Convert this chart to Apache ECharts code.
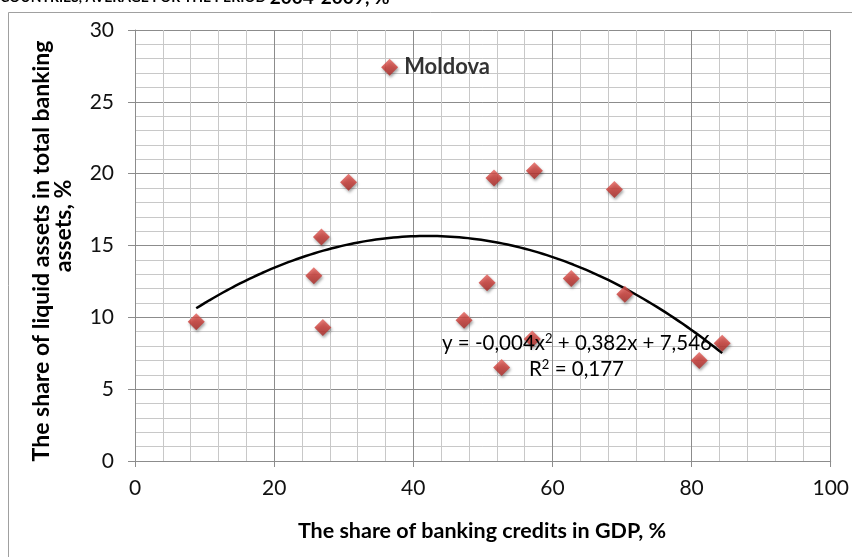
<!DOCTYPE html>
<html>
<head>
<meta charset="utf-8">
<script src="https://cdn.jsdelivr.net/npm/echarts@6/dist/echarts.min.js"></script>
<style>
html,body{margin:0;padding:0;background:#fff;}
#c{width:852px;height:557px;}
</style>
</head>
<body>
<div id="c"></div>
<script>
// ---- data ----
const creditsGDP = [8.8, 25.7, 26.8, 27.0, 30.7, 36.6, 47.3, 50.6, 51.6, 52.7, 57.4, 57.1, 62.7, 68.9, 70.4, 81.1, 84.4];
const liquidShare = [9.7, 12.9, 15.6, 9.3, 19.4, 27.4, 9.8, 12.4, 19.7, 6.5, 20.2, 8.5, 12.7, 18.9, 11.6, 7.0, 8.2];
const pointNames = ['', '', '', '', '', 'Moldova', '', '', '', '', '', '', '', '', '', '', ''];
const xTicks = [0, 20, 40, 60, 80, 100];
const yTicks = [0, 5, 10, 15, 20, 25, 30];
const titleText = ['COUNTRIES, AVERAGE FOR THE PERIOD ', '2004-2009, %'];
const xName = 'The share of banking credits in GDP, %';
const yNameLines = ['The share of liquid assets in total banking', 'assets, %'];
const equationText = ['y = -0,004x', '2', ' + 0,382x + 7,546'];
const r2Text = ['R', '2', ' = 0,177'];

// ---- quadratic least-squares trend (as Excel's polynomial trendline) ----
function quadFit(xs, ys) {
  let S = [0,0,0,0,0], T = [0,0,0];
  for (let i = 0; i < xs.length; i++) {
    let p = 1;
    for (let k = 0; k < 5; k++) { S[k] += p; if (k < 3) T[k] += p * ys[i]; p *= xs[i]; }
  }
  const A = [[S[0],S[1],S[2],T[0]],[S[1],S[2],S[3],T[1]],[S[2],S[3],S[4],T[2]]];
  for (let c = 0; c < 3; c++) {
    for (let r = c + 1; r < 3; r++) {
      const f = A[r][c] / A[c][c];
      for (let k = c; k < 4; k++) A[r][k] -= f * A[c][k];
    }
  }
  const sol = [0,0,0];
  for (let r = 2; r >= 0; r--) {
    let s = A[r][3];
    for (let k = r + 1; k < 3; k++) s -= A[r][k] * sol[k];
    sol[r] = s / A[r][r];
  }
  return sol; // c0, c1, c2
}
const coef = quadFit(creditsGDP, liquidShare);
const xMin = Math.min(...creditsGDP), xMax = Math.max(...creditsGDP);
const trendData = [];
for (let i = 0; i <= 120; i++) {
  const x = xMin + (xMax - xMin) * i / 120;
  trendData.push([x, coef[0] + coef[1] * x + coef[2] * x * x]);
}

const FONT = 'Lato, "Open Sans", sans-serif';

const scatterData = creditsGDP.map((x, i) => {
  const item = { value: [x, liquidShare[i]] };
  if (pointNames[i]) {
    item.label = { show: true, position: 'right', distance: 6, formatter: pointNames[i],
      fontFamily: FONT, fontWeight: 'bold', fontSize: 22, color: '#000' };
  }
  return item;
});

const chart = echarts.init(document.getElementById('c'));
chart.setOption({
  animation: false,
  backgroundColor: '#fff',
  grid: { left: 135, right: 20, top: 30, bottom: 96, containLabel: false },
  xAxis: {
    type: 'value', min: xTicks[0], max: xTicks[xTicks.length - 1], interval: 20,
    axisLine: { show: true, lineStyle: { color: '#8c8c8c', width: 1 } },
    axisTick: { show: true, length: 6, lineStyle: { color: '#8c8c8c' } },
    axisLabel: { fontFamily: FONT, fontSize: 21, color: '#111', margin: 17 },
    splitLine: { show: true, lineStyle: { color: '#8c8c8c', width: 1 } },
    minorTick: { show: false, splitNumber: 5 },
    minorSplitLine: { show: true, lineStyle: { color: '#c8c8c8', width: 1 } }
  },
  yAxis: {
    type: 'value', min: yTicks[0], max: yTicks[yTicks.length - 1], interval: 5,
    axisLine: { show: true, lineStyle: { color: '#8c8c8c', width: 1 } },
    axisTick: { show: true, length: 7, lineStyle: { color: '#8c8c8c' } },
    axisLabel: { fontFamily: FONT, fontSize: 21, color: '#111', margin: 21 },
    splitLine: { show: true, lineStyle: { color: '#8c8c8c', width: 1 } },
    minorTick: { show: false, splitNumber: 5 },
    minorSplitLine: { show: true, lineStyle: { color: '#c8c8c8', width: 1 } }
  },
  series: [
    {
      type: 'line', data: trendData, showSymbol: false, symbol: 'none', smooth: false,
      lineStyle: { color: '#000', width: 2.5 }, z: 3, silent: true
    },
    {
      type: 'scatter', data: scatterData, symbol: 'diamond', symbolSize: 17, z: 4,
      itemStyle: {
        color: new echarts.graphic.LinearGradient(0, 0, 0, 1, [
          { offset: 0, color: '#e4605a' }, { offset: 0.5, color: '#cc3b36' }, { offset: 1, color: '#a82a26' }
        ]),
        shadowBlur: 3, shadowColor: 'rgba(0,0,0,0.45)', shadowOffsetX: 1, shadowOffsetY: 2
      }
    }
  ],
  graphic: [
    { type: 'rect', shape: { x: 8.5, y: 12.5, width: 900, height: 600 }, style: { fill: 'none', stroke: '#a0a0a0', lineWidth: 1 }, z: -1 },
    { type: 'text', x: 0, y: 7, style: {
        text: '{a|' + titleText[0] + '}{b|' + titleText[1] + '}', verticalAlign: 'bottom',
        rich: { a: { fontFamily: FONT, fontWeight: 'bold', fontSize: 14, fill: '#000' },
                b: { fontFamily: FONT, fontWeight: 'bold', fontSize: 19, fill: '#000' } } } },
    { type: 'text', x: 42, y: 251, rotation: Math.PI / 2, style: {
        text: yNameLines[0], fontFamily: FONT, fontWeight: 'bold', fontSize: 23, fill: '#000', align: 'center', verticalAlign: 'middle' } },
    { type: 'text', x: 64, y: 226, rotation: Math.PI / 2, style: {
        text: yNameLines[1], fontFamily: FONT, fontWeight: 'bold', fontSize: 23, fill: '#000', align: 'center', verticalAlign: 'middle' } },
    { type: 'text', x: 482, y: 531, style: {
        text: xName, fontFamily: FONT, fontWeight: 'bold', fontSize: 21.5, fill: '#000', align: 'center', verticalAlign: 'middle' } },
    { type: 'text', x: 442, y: 343, z: 10, style: {
        text: '{n|' + equationText[0] + '}{s|' + equationText[1] + '}{n|' + equationText[2] + '}', verticalAlign: 'middle',
        rich: { n: { fontFamily: FONT, fontSize: 20.5, fill: '#000' }, s: { fontFamily: FONT, fontSize: 13, fill: '#000', verticalAlign: 'top', padding: [0,0,8,0] } } } },
    { type: 'text', x: 529, y: 369, z: 10, style: {
        text: '{n|' + r2Text[0] + '}{s|' + r2Text[1] + '}{n|' + r2Text[2] + '}', verticalAlign: 'middle',
        rich: { n: { fontFamily: FONT, fontSize: 20.5, fill: '#000' }, s: { fontFamily: FONT, fontSize: 13, fill: '#000', verticalAlign: 'top', padding: [0,0,8,0] } } } }
  ]
});
</script>
</body>
</html>
